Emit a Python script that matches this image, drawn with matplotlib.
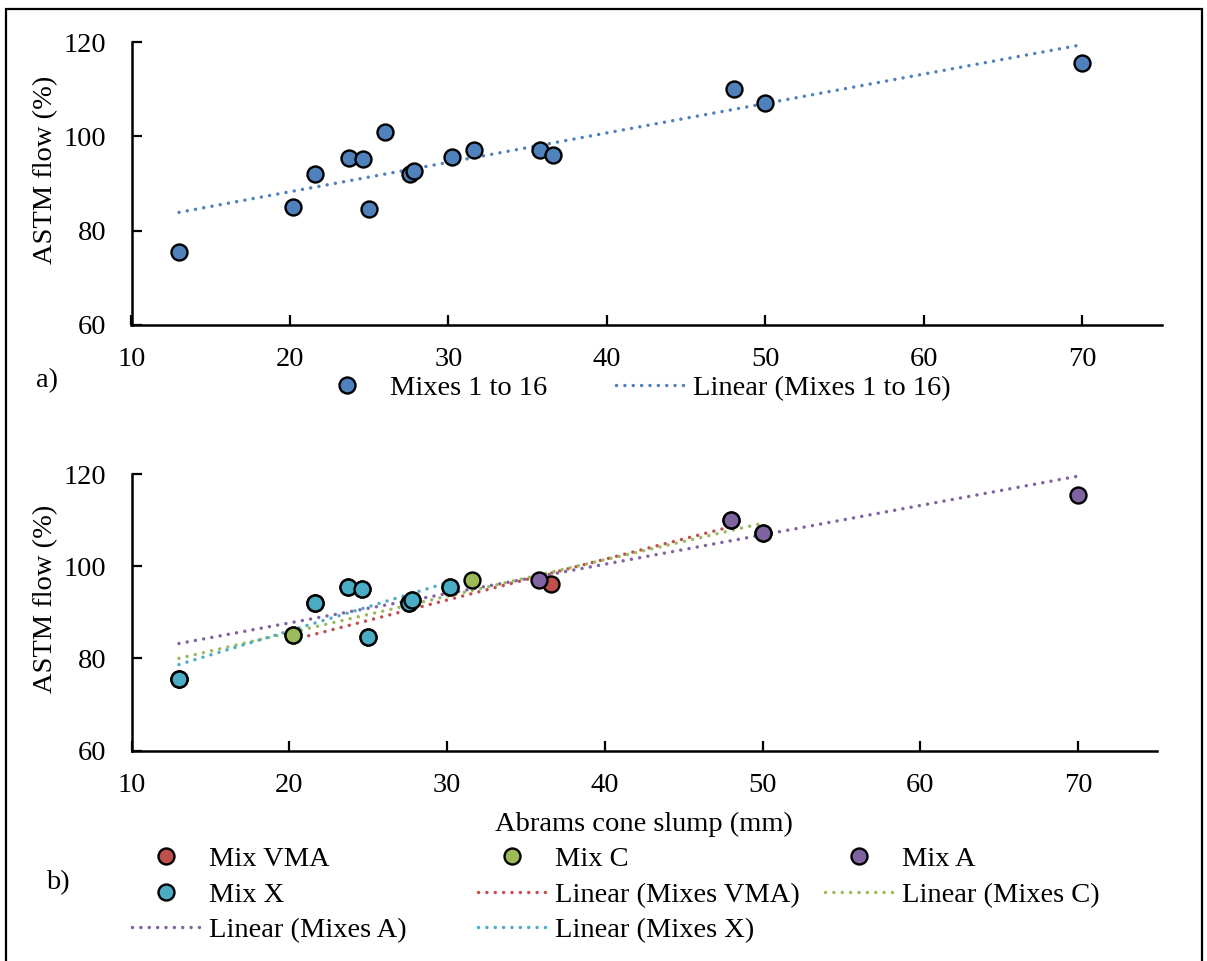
import numpy as np
import matplotlib
matplotlib.use("Agg")
import matplotlib.pyplot as plt
from matplotlib.lines import Line2D
from matplotlib.patches import Rectangle

plt.rcParams["font.family"] = ["Liberation Serif", "DejaVu Serif"]
FS = 20.5
plt.rcParams["font.size"] = FS

# ---- data: Abrams cone slump (mm) vs ASTM flow (%) ----
slump_all = [13.0, 20.2, 21.6, 23.7, 24.6, 25.0, 26.0, 27.6, 27.8, 30.2, 31.6, 35.8, 36.6, 48.0, 50.0, 70.0]
flow_all = [75.5, 85.0, 92.0, 95.4, 95.1, 84.6, 101.0, 92.1, 92.6, 95.6, 97.1, 97.1, 96.1, 110.0, 107.1, 115.5]

slump_vma = [20.2, 36.6, 48.0]
flow_vma = [85.0, 96.1, 110.0]

slump_c = [13.0, 20.2, 21.6, 31.6, 50.0]
flow_c = [75.5, 85.0, 92.0, 97.1, 107.1]

slump_a = [13.0, 21.6, 23.7, 24.6, 25.0, 27.6, 27.8, 30.2, 35.8, 48.0, 50.0, 70.0]
flow_a = [75.5, 92.0, 95.4, 95.1, 84.6, 92.1, 92.6, 95.6, 97.1, 110.0, 107.1, 115.5]

slump_x = [13.0, 21.6, 23.7, 24.6, 25.0, 27.6, 27.8, 30.2]
flow_x = [75.5, 92.0, 95.4, 95.1, 84.6, 92.1, 92.6, 95.6]

x_ticks = [10, 20, 30, 40, 50, 60, 70]
y_ticks = [60, 80, 100, 120]

BLUE = "#4F81BD"
RED = "#C0504D"
GREEN = "#9BBB59"
PURPLE = "#8064A2"
AQUA = "#4BACC6"

W, H = 1207, 961
fig = plt.figure(figsize=(W / 100, H / 100), dpi=100)


def fx(px):
    return px / W


def fy(py):
    return 1 - py / H


MARKER = dict(marker="o", linestyle="none", markersize=11.5, markeredgecolor="black",
              markeredgewidth=1.7)
DOT = dict(linestyle=(0, (0.01, 2.4)), dash_capstyle="round", linewidth=2.5)


def trend(ax, xs, ys, color):
    xs = np.asarray(xs, float)
    ys = np.asarray(ys, float)
    k, b = np.polyfit(xs, ys, 1)
    xr = np.array([xs.min(), xs.max()])
    ax.plot(xr, k * xr + b, color=color, zorder=2, **DOT)


def style_axes(ax):
    ax.set_xlim(10, 75)
    ax.set_ylim(60, 120)
    ax.set_xticks(x_ticks)
    ax.set_yticks(y_ticks)
    for s in ("top", "right"):
        ax.spines[s].set_visible(False)
    for s in ("left", "bottom"):
        ax.spines[s].set_linewidth(1.8)
    ax.tick_params(axis="both", direction="in", length=7, width=1.6, labelsize=FS)
    ax.tick_params(axis="x", pad=16)
    ax.tick_params(axis="y", pad=18)
    ax.set_ylabel("ASTM flow (%)", fontsize=FS)


# ---- a) all mixes ----
L1, R1, T1, B1 = 131.5, 1161.5, 42.3, 324.7
ax1 = fig.add_axes([fx(L1), fy(B1), fx(R1) - fx(L1), fy(T1) - fy(B1)])
style_axes(ax1)
trend(ax1, slump_all, flow_all, BLUE)
ax1.plot(slump_all, flow_all, color=BLUE, zorder=3, **MARKER)
ax1.yaxis.set_label_coords((58 - L1) / (R1 - L1), (B1 - 170) / (B1 - T1))

# ---- b) mixes by group ----
L2, R2, T2, B2 = 131.6, 1157, 474, 750.7
ax2 = fig.add_axes([fx(L2), fy(B2), fx(R2) - fx(L2), fy(T2) - fy(B2)])
style_axes(ax2)
groups = [
    ("Mix VMA", "Linear (Mixes VMA)", slump_vma, flow_vma, RED),
    ("Mix C", "Linear (Mixes C)", slump_c, flow_c, GREEN),
    ("Mix A", "Linear (Mixes A)", slump_a, flow_a, PURPLE),
    ("Mix X", "Linear (Mixes X)", slump_x, flow_x, AQUA),
]
for _, _, xs, ys, col in groups:
    trend(ax2, xs, ys, col)
for i, (_, _, xs, ys, col) in enumerate(groups):
    ax2.plot(xs, ys, color=col, zorder=3 + i, **MARKER)
ax2.yaxis.set_label_coords((58 - L2) / (R2 - L2), (B2 - 599) / (B2 - T2))
ax2.set_xlabel("Abrams cone slump (mm)", fontsize=FS, labelpad=10)

# ---- legends ----
LEG = dict(frameon=False, borderpad=0, borderaxespad=0, handlelength=2.4,
           handletextpad=0.3, fontsize=FS)


def marker_handle(color):
    return Line2D([], [], color=color, **MARKER)


def line_handle(color):
    return Line2D([], [], color=color, **DOT)


def entry(handle, label, x_px, y_px):
    fig.legend(handles=[handle], labels=[label], loc="center left",
               bbox_to_anchor=(fx(x_px), fy(y_px)), **LEG)


entry(marker_handle(BLUE), "Mixes 1 to 16", 313, 388)
entry(line_handle(BLUE), "Linear (Mixes 1 to 16)", 616, 388)

cols = [132, 478, 825]
rows = [859, 895, 930]
b_entries = [
    (marker_handle(RED), "Mix VMA"),
    (marker_handle(GREEN), "Mix C"),
    (marker_handle(PURPLE), "Mix A"),
    (marker_handle(AQUA), "Mix X"),
    (line_handle(RED), "Linear (Mixes VMA)"),
    (line_handle(GREEN), "Linear (Mixes C)"),
    (line_handle(PURPLE), "Linear (Mixes A)"),
    (line_handle(AQUA), "Linear (Mixes X)"),
]
for i, (h, lab) in enumerate(b_entries):
    entry(h, lab, cols[i % 3], rows[i // 3])

fig.text(fx(47), fy(381), "a)", fontsize=FS, ha="center", va="center")
fig.text(fx(58), fy(883), "b)", fontsize=FS, ha="center", va="center")

# outer frame
fig.patches.append(Rectangle((fx(6), -0.01), fx(1202) - fx(6), fy(9) + 0.01,
                             transform=fig.transFigure, fill=False,
                             edgecolor="black", linewidth=1.6))

fig.savefig("out.png", dpi=100)
